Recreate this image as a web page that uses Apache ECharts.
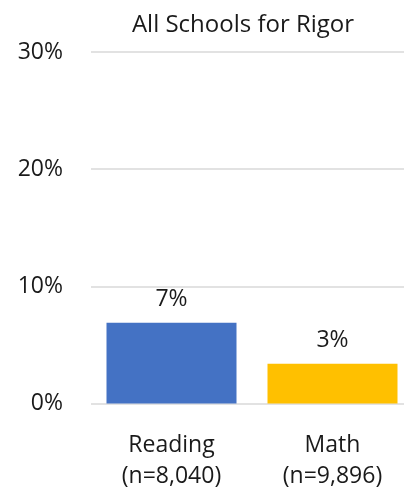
<!DOCTYPE html>
<html><head><meta charset="utf-8">
<script src="https://cdn.jsdelivr.net/npm/echarts@6/dist/echarts.min.js"></script>
<style>html,body{margin:0;padding:0;background:#fff;overflow:hidden;width:404px;height:491px}#c{width:413px;height:491px}</style>
</head><body><div id="c"></div>
<script>
const categories = ['Reading\n(n=8,040)', 'Math\n(n=9,896)'];
const values = [6.9, 3.4];
const colors = ['#4472C4', '#FFC000'];
const yTicks = [0, 10, 20, 30];
const font = '"Open Sans", sans-serif';
const chart = echarts.init(document.getElementById('c'));
chart.setOption({
  animation: false,
  title: { text: 'All Schools for Rigor', left: 238, top: 8, textAlign: 'center',
    textStyle: { fontFamily: font, fontSize: 24, fontWeight: 'normal', color: '#1a1a1a' } },
  grid: { left: 91, top: 52, right: 0, height: 351.5, containLabel: false, outerBoundsMode: 'none' },
  xAxis: { type: 'category', data: categories,
    axisLine: { show: false }, axisTick: { show: false },
    axisLabel: { fontFamily: font, fontSize: 23, color: '#1a1a1a', lineHeight: 31, margin: 26 } },
  yAxis: { type: 'value', min: yTicks[0], max: yTicks[yTicks.length-1], interval: 10,
    axisLine: { show: false }, axisTick: { show: false },
    splitLine: { lineStyle: { color: '#d9d9d9', width: 1.5 } },
    axisLabel: { fontFamily: font, fontSize: 23, color: '#1a1a1a', margin: 28, formatter: v => v + '%' } },
  series: [{ type: 'bar', barWidth: 130,
    data: values.map((v, i) => ({ value: v, itemStyle: { color: colors[i] } })),
    label: { show: true, position: 'top', distance: 12, fontFamily: font, fontSize: 23, color: '#1a1a1a',
      formatter: p => Math.round(p.value) + '%' } }]
});
</script></body></html>
